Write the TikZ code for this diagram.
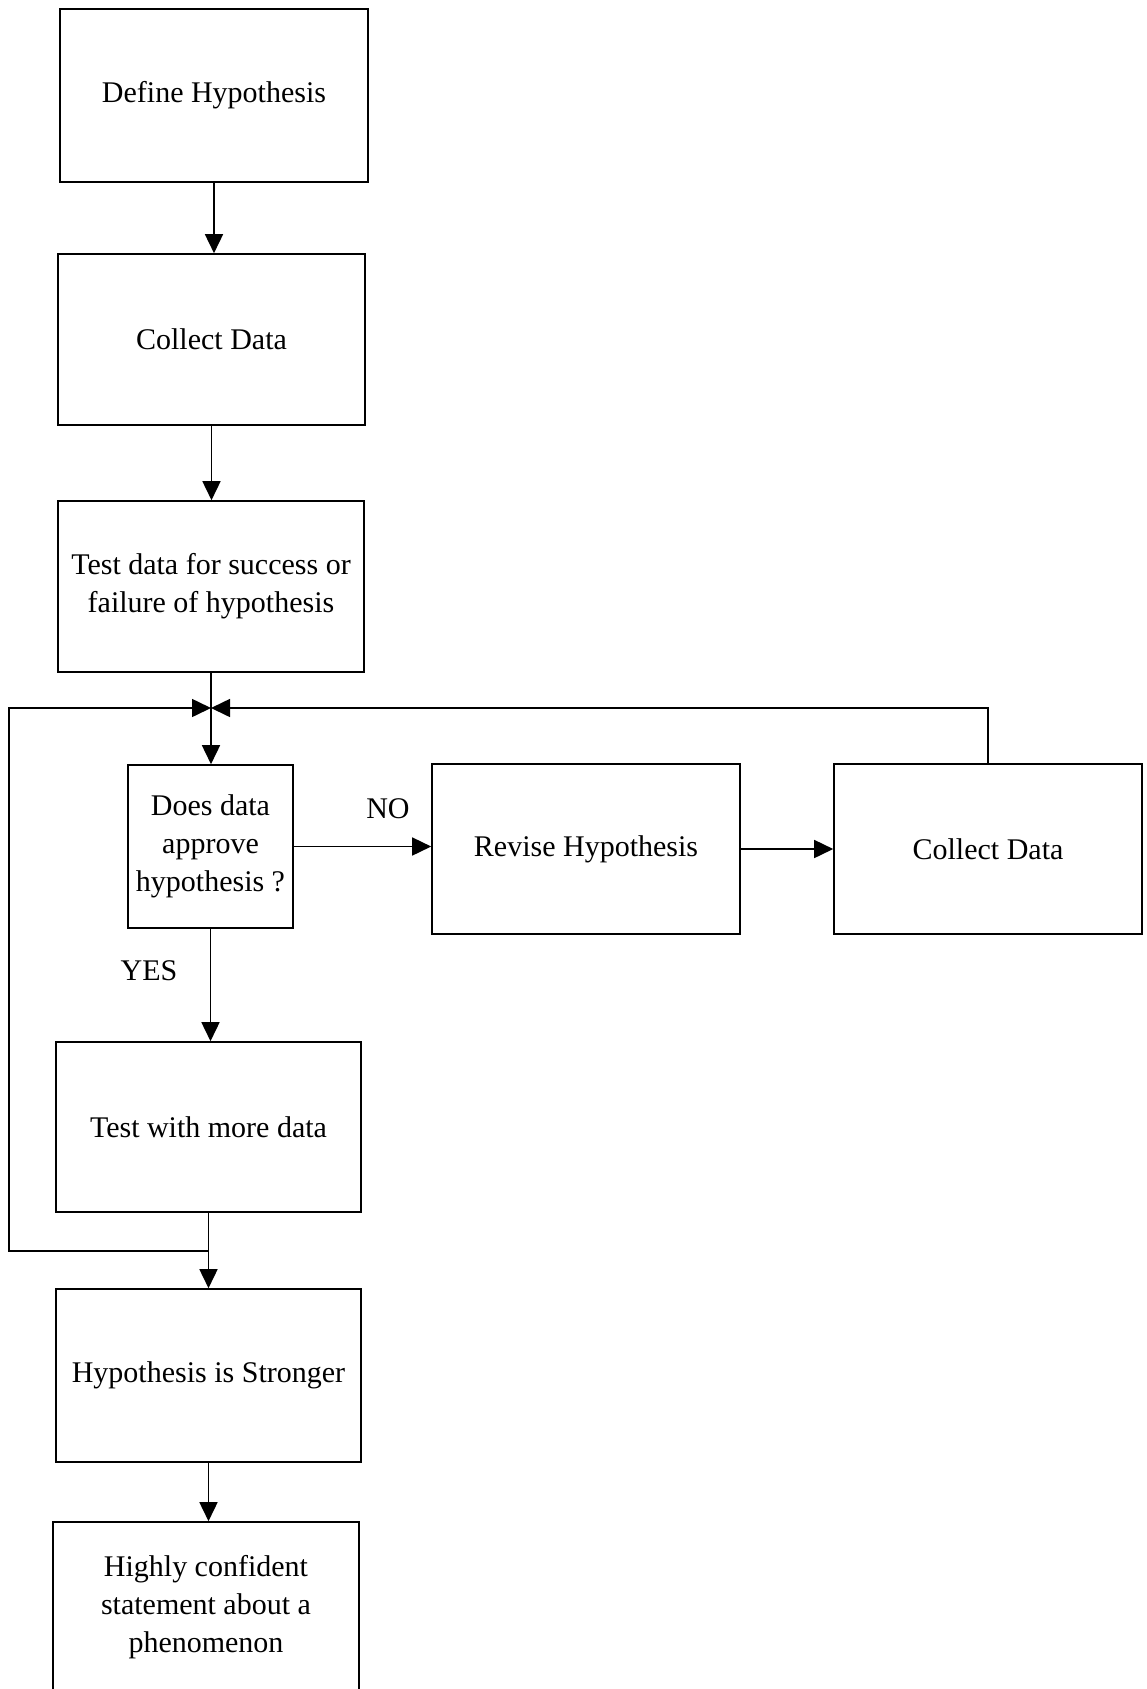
\documentclass[tikz,border=0pt]{standalone}
\usepackage{fontspec}
\setmainfont{Liberation Serif}
\usetikzlibrary{arrows.meta}
\begin{document}
\begin{tikzpicture}[x=1pt,y=-1pt,
  box/.style={draw,line width=1.6pt,inner sep=0pt,align=center,font=\fontsize{30}{38}\selectfont},
  line/.style={line width=1.6pt},
  arr/.style={line width=1.6pt,-{Triangle[length=19pt,width=18pt]}},
  lbl/.style={font=\fontsize{30}{38}\selectfont,inner sep=0pt}]
\useasboundingbox (0,0) rectangle (1146,1689);
\clip (0,0) rectangle (1146,1689);
\node[box,minimum width=308pt,minimum height=173pt] (b1) at (214,95.5) {Define Hypothesis};
\node[box,minimum width=307pt,minimum height=171pt] (b2) at (211.5,339.5) {Collect Data};
\node[box,minimum width=306pt,minimum height=171pt] (b3) at (211,586.5) {Test data for success or\\failure of hypothesis};
\node[box,minimum width=165pt,minimum height=163pt] (dec) at (210.5,846.5) {Does data\\approve\\hypothesis ?};
\node[box,minimum width=308pt,minimum height=170pt] (rev) at (586,849) {Revise Hypothesis};
\node[box,minimum width=308pt,minimum height=170pt] (cd2) at (988,849) {Collect Data};
\node[box,minimum width=305pt,minimum height=170pt] (tm) at (208.5,1127) {Test with more data};
\node[box,minimum width=305pt,minimum height=173pt] (hs) at (208.5,1375.5) {Hypothesis is Stronger};
\node[box,minimum width=306pt,minimum height=170pt] (last) at (206,1607) {Highly confident\\statement about a\\phenomenon};
\node[lbl] (no) at (388,809) {NO};
\node[lbl] (yes) at (149,971) {YES};
\coordinate (J) at (211,708);
\coordinate (K) at (208.5,1251);
\coordinate (loopL) at (9,1251);
\draw[arr] (b1.south) -- (b1.south |- b2.north);
\draw[arr] (b2.south) -- (b2.south |- b3.north);
\draw[line] (b3.south) -- (J);
\draw[arr] (J) -- (J |- dec.north);
\draw[arr] (dec.east) -- (dec.east -| rev.west);
\draw[arr] (rev.east) -- (cd2.west);
\draw[arr] (cd2.north) |- (J);
\draw[arr] (dec.south) -- (dec.south |- tm.north);
\draw[line] (tm.south) -- (K);
\draw[arr] (K) -- (K |- hs.north);
\draw[arr] (K) -- (loopL) |- (J);
\draw[arr] (hs.south) -- (hs.south |- last.north);
\end{tikzpicture}
\end{document}
